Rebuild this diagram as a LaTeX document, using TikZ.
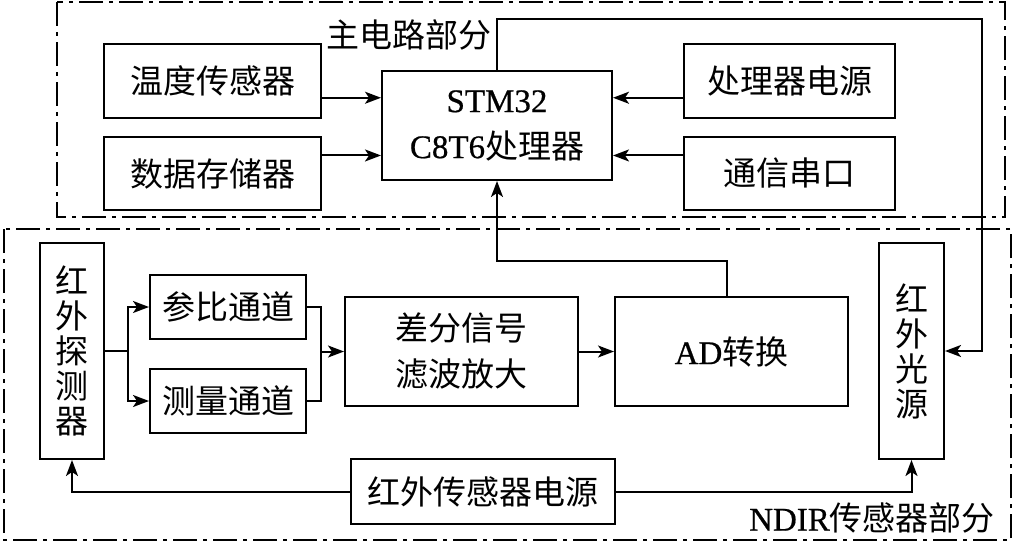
\documentclass[tikz,border=0pt]{standalone}
\usepackage{fontspec}
\setmainfont{Liberation Serif}[FakeBold=0.6]
\newfontfamily\cjk{Noto Sans CJK SC}
\usetikzlibrary{arrows.meta,calc}
\newcommand\fsz{\fontsize{33}{46}\selectfont}
\newcommand\vfsz{\fontsize{33}{35}\selectfont}
\begin{document}
\begin{tikzpicture}[x=1pt,y=-1pt,
  blk/.style={draw, line width=2pt, inner sep=0pt, align=center, font=\fsz\cjk},
  vblk/.style={draw, line width=2pt, inner sep=0pt, align=center, font=\vfsz\cjk},
  wire/.style={line width=2pt},
  conn/.style={line width=2pt, -{Stealth[length=16pt,width=12pt,inset=4pt]}},
  zone/.style={line width=1.8pt, dash pattern=on 24pt off 6pt on 4pt off 6pt},
  lbl/.style={inner sep=0pt, font=\fsz\cjk}]
\useasboundingbox (0,0) rectangle (1015,546);
\draw[zone] (57,2) rectangle (1005,217);
\draw[zone] (4,229) rectangle (1011,540);

% main circuit
\node[blk, minimum width=217pt, minimum height=74pt] (temp) at (212.5,81) {温度传感器};
\node[blk, minimum width=217pt, minimum height=73pt] (store) at (212.5,173.5) {数据存储器};
\node[blk, minimum width=230pt, minimum height=109pt] (stm) at (497,125.5) {{\rmfamily STM32}\\{\rmfamily C8T6}处理器};
\node[blk, minimum width=211pt, minimum height=74pt] (power) at (789.5,81) {处理器电源};
\node[blk, minimum width=211pt, minimum height=73pt] (comm) at (789.5,173.5) {通信串口};

% NDIR part
\node[vblk, minimum width=64pt, minimum height=216pt] (det) at (72,351) {红\\外\\探\\测\\器};
\node[blk, minimum width=156pt, minimum height=64pt] (ref) at (228,307) {参比通道};
\node[blk, minimum width=156pt, minimum height=64pt] (meas) at (228,401) {测量通道};
\node[blk, minimum width=233pt, minimum height=109pt] (diff) at (461.5,351.5) {差分信号\\滤波放大};
\node[blk, minimum width=233pt, minimum height=109pt] (ad) at (731.5,351.5) {{\rmfamily AD}转换};
\node[vblk, minimum width=65pt, minimum height=216pt] (src) at (911.5,351) {红\\外\\光\\源};
\node[blk, minimum width=264pt, minimum height=65pt] (ps) at (483,491.5) {红外传感器电源};

\node[lbl] (lab1) at (409,35) {主电路部分};
\node[lbl] (lab2) at (872,518) {{\rmfamily NDIR}传感器部分};

% connectors, main
\coordinate (s1) at ($(stm.north west)!0.25!(stm.south west)$);
\coordinate (s2) at ($(stm.north west)!0.77!(stm.south west)$);
\coordinate (s3) at ($(stm.north east)!0.25!(stm.south east)$);
\coordinate (s4) at ($(stm.north east)!0.77!(stm.south east)$);
\draw[conn] (temp.east |- s1) -- (s1);
\draw[conn] (store.east |- s2) -- (s2);
\draw[conn] (power.west |- s3) -- (s3);
\draw[conn] (comm.west |- s4) -- (s4);

\coordinate (w1) at (982,19);
\draw[conn] (stm.north) |- (w1) |- (src.east);

\coordinate (w2) at (727,261);
\draw[conn] (ad.north -| w2) |- (w2 -| stm.south) -- (stm.south);

% connectors, NDIR
\coordinate (b1) at (128,351);
\draw[wire] (det.east) -- (b1);
\draw[conn] (b1) |- (ref.west);
\draw[conn] (b1) |- (meas.west);
\coordinate (m1) at (321,351.5);
\draw[wire] (ref.east) -| (m1);
\draw[wire] (meas.east) -| (m1);
\draw[conn] (m1) -- (diff.west);
\draw[conn] (diff.east) -- (ad.west);
\draw[conn] (ps.west) -| (det.south);
\draw[conn] (ps.east) -| (src.south);
\end{tikzpicture}
\end{document}
